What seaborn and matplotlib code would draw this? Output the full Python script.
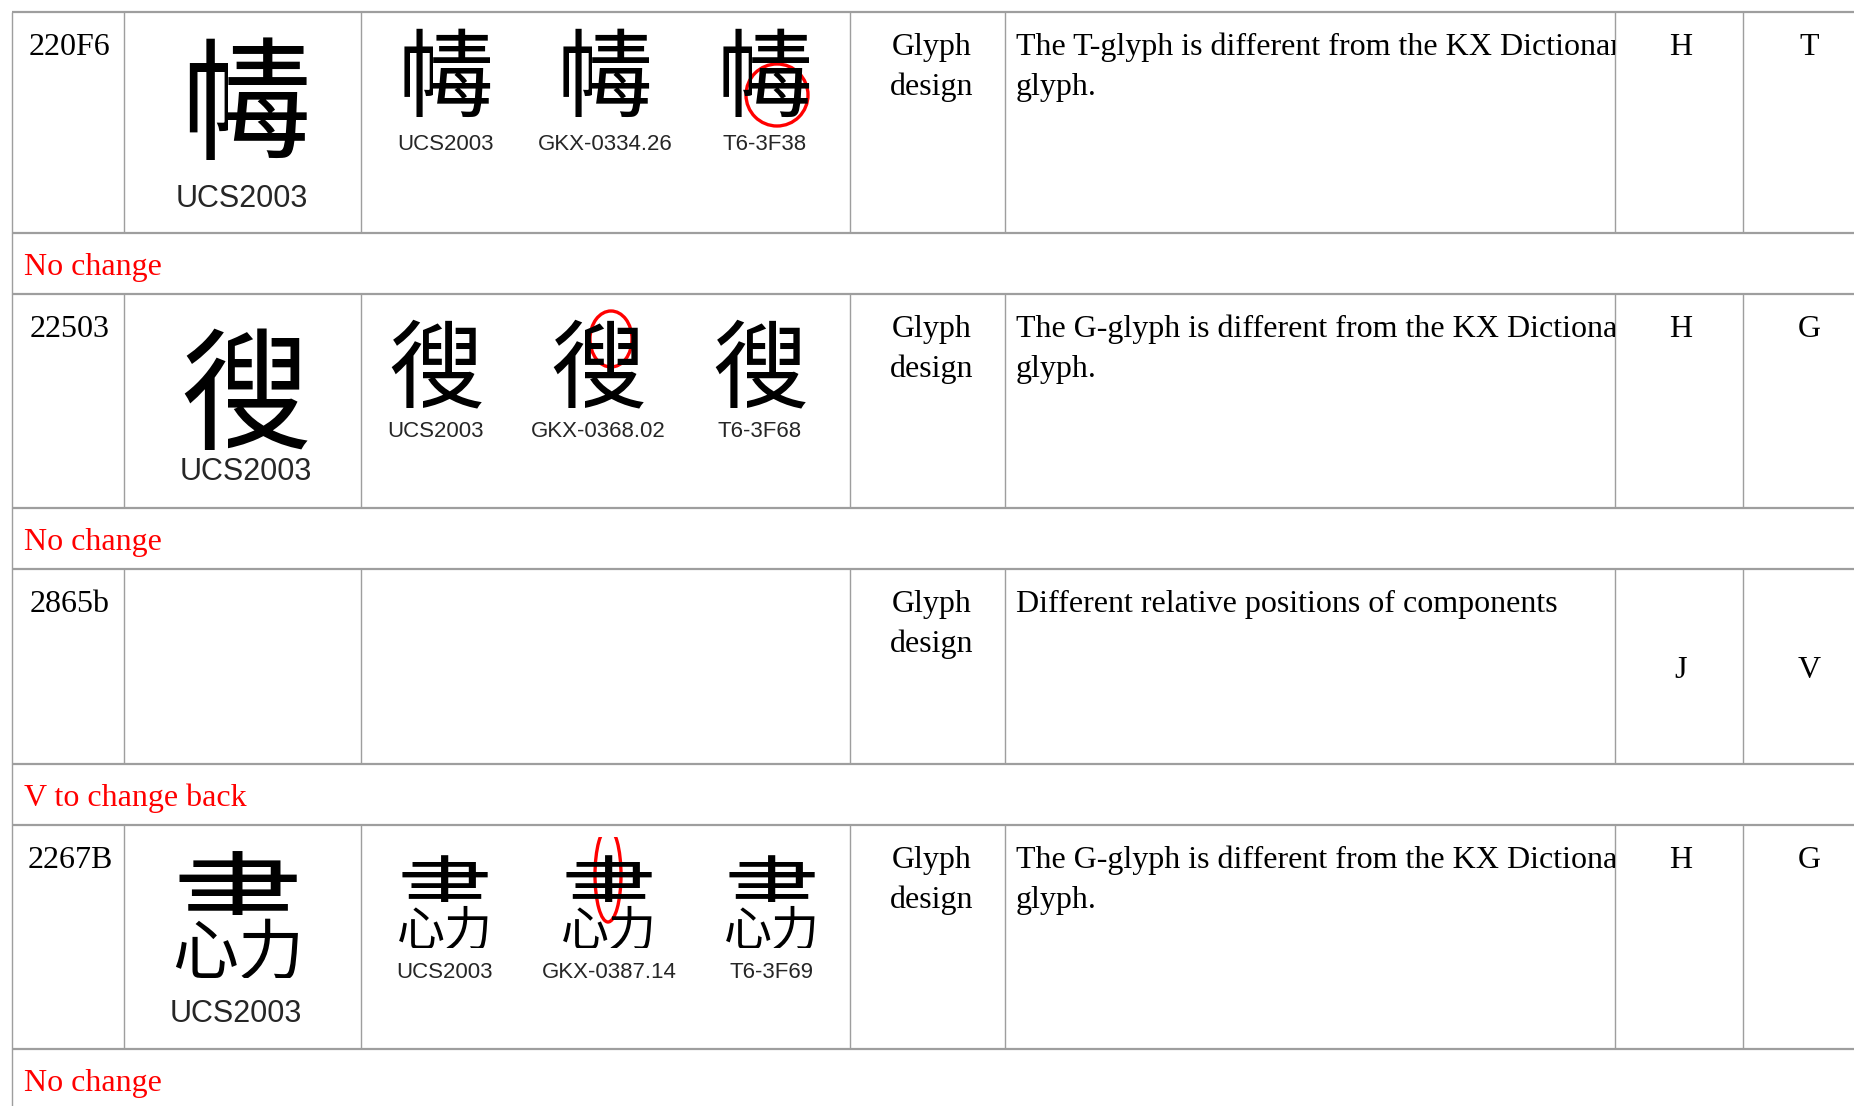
import matplotlib
matplotlib.use("Agg")
import matplotlib.pyplot as plt
from matplotlib.patches import Ellipse, Rectangle
import seaborn as sns

# table content
codes = ["220F6", "22503", "2865b", "2267B"]
# no installed font has these Ext-B ideographs, so each one is built from
# ordinary characters that carry the same components (left | right, or top / bottom)
glyph_parts = [("lr", "帳", "瑇"), ("lr", "很", "搜"), None, ("tb", "書", "心力")]
gkx_refs = ["GKX-0334.26", "GKX-0368.02", "", "GKX-0387.14"]
t_refs = ["T6-3F38", "T6-3F68", "", "T6-3F69"]
categories = ["Glyph design", "Glyph design", "Glyph design", "Glyph design"]
descriptions = [
    ["The T-glyph is different from the KX Dictionary", "glyph."],
    ["The G-glyph is different from the KX Dictionary", "glyph."],
    ["Different relative positions of components"],
    ["The G-glyph is different from the KX Dictionary", "glyph."],
]
col_a = ["H", "H", "J", "H"]
col_b = ["T", "G", "V", "G"]
notes = ["No change", "No change", "V to change back", "No change"]
circled = [2, 1, None, 1]   # which sample glyph carries the red mark

sns.set_theme(style="white")
serif = ["Liberation Serif", "DejaVu Serif"]
sans = ["Liberation Sans", "DejaVu Sans"]
cjk = ["Noto Sans CJK TC", "Noto Sans CJK SC", "Noto Sans CJK JP", "DejaVu Sans"]

W, H = 1854, 1106
fig = plt.figure(figsize=(W / 100, H / 100), dpi=100)
ax = fig.add_axes([0, 0, 1, 1])
ax.set_xlim(0, W)
ax.set_ylim(H, 0)
ax.axis("off")

pt = 0.72  # px -> pt at 100 dpi
fs = 23
col_x = [12, 124, 361, 850, 1005, 1615, 1743, 1880]
row_h = [221, 214, 195, 224]
note_h = 61
grid = "#9e9e9e"

# placement of the pasted glyph pictures inside each row (px from the row top)
big_pos = [(246, 86), (246, 95), None, (238, 87)]
big_lab = [(242, 195), (246, 186), None, (236, 197)]
small_x = [(446, 605, 765), (436, 598, 760), None, (445, 609, 772)]
small_y = [60, 70, None, 75]
small_lab = [138, 143, None, 153]
mark = [(12, 83, 62, 62), (13, 45, 42, 56), None, (-1, 50, 26, 94)]


def box(x0, y0, x1, y1):
    return Rectangle((x0, y0), x1 - x0, y1 - y0, transform=ax.transData)


def cjk_text(x, y, s, size, clip):
    t = ax.text(x, y, s, family=cjk, fontsize=size * pt, ha="center",
                va="baseline", color="black", clip_on=True)
    t.set_clip_path(clip)
    return t


def draw_glyph(parts, cx, cy, S):
    # em box of size S centred on (cx, cy); baseline sits 0.38 em below centre
    base = cy + 0.38 * S
    top, bottom = cy - 0.5 * S, cy + 0.5 * S
    left, right = cx - 0.55 * S, cx + 0.55 * S
    if parts[0] == "lr":
        split = cx - 0.14 * S
        cjk_text(cx, base, parts[1], S, box(left, top, split, bottom))
        cjk_text(cx, base, parts[2], S, box(split, top, right, bottom))
    else:
        split = top + 0.52 * S
        cjk_text(cx, base, parts[1], S, box(left, top, right, split))
        s = 0.5 * S
        cjk_text(cx, split + 0.01 * S + 0.88 * s, parts[2], s, box(left, split, right, bottom))


y = 12
for i in range(4):
    top, bot = y, y + row_h[i]
    ax.plot([col_x[0], W], [top, top], color=grid, lw=1.6, solid_capstyle="butt")
    for cx in col_x[:-1]:
        ax.plot([cx, cx], [top, bot], color=grid, lw=1.0, solid_capstyle="butt")
    ax.plot([col_x[0], col_x[0]], [bot, bot + note_h], color=grid, lw=1.0)

    base = top + 43
    ax.text((col_x[0] + col_x[1]) / 2 + 2, base, codes[i], family=serif,
            fontsize=fs, ha="center", va="baseline", color="black")
    for k, word in enumerate(categories[i].split(" ")):
        ax.text((col_x[3] + col_x[4]) / 2 + 4, base + 40 * k, word, family=serif,
                fontsize=fs, ha="center", va="baseline", color="black")
    clip = box(col_x[4], top, col_x[5], bot)
    for k, line in enumerate(descriptions[i]):
        t = ax.text(col_x[4] + 11, base + 40 * k, line, family=serif, fontsize=fs,
                    ha="left", va="baseline", color="black", clip_on=True)
        t.set_clip_path(clip)
    yab = base if glyph_parts[i] else (top + bot) / 2 + 12
    ax.text((col_x[5] + col_x[6]) / 2 + 2, yab, col_a[i], family=serif,
            fontsize=fs, ha="center", va="baseline", color="black")
    ax.text((col_x[6] + col_x[7]) / 2 - 2, yab, col_b[i], family=serif,
            fontsize=fs, ha="center", va="baseline", color="black")

    if glyph_parts[i]:
        gx, gy = big_pos[i]
        draw_glyph(glyph_parts[i], gx, top + gy, 132)
        lx, ly = big_lab[i]
        ax.text(lx, top + ly, "UCS2003", family=sans, fontsize=22,
                ha="center", va="baseline", color="#262626")
        labels = ["UCS2003", gkx_refs[i], t_refs[i]]
        for k in range(3):
            draw_glyph(glyph_parts[i], small_x[i][k], top + small_y[i], 96)
            ax.text(small_x[i][k], top + small_lab[i], labels[k], family=sans,
                    fontsize=16, ha="center", va="baseline", color="#262626")
        if circled[i] is not None:
            dx, dy, ew, eh = mark[i]
            e = Ellipse((small_x[i][circled[i]] + dx, top + dy), ew, eh,
                        fill=False, ec="red", lw=2.4)
            ax.add_patch(e)
            e.set_clip_path(box(col_x[2], top + 12, col_x[3], bot))

    y = bot
    ax.plot([col_x[0], W], [y, y], color=grid, lw=1.6, solid_capstyle="butt")
    ax.text(col_x[0] + 12, y + 42, notes[i], family=serif, fontsize=fs,
            ha="left", va="baseline", color="#ff0000")
    y += note_h

fig.savefig("out.png", dpi=100, facecolor="white")
